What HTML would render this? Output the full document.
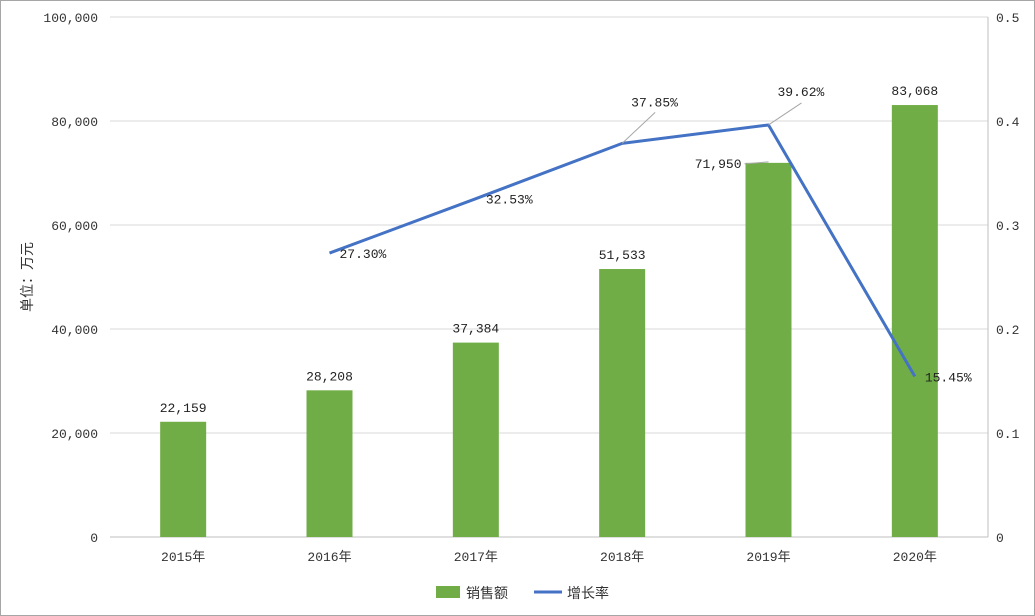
<!DOCTYPE html>
<html><head><meta charset="utf-8">
<style>
html,body{margin:0;padding:0;background:#fff;}
svg{display:block;font-family:"Liberation Mono","Noto Sans CJK SC",monospace;}
</style></head>
<body>
<svg id="c" width="1035" height="616" xmlns="http://www.w3.org/2000/svg">
<rect x="0.5" y="0.5" width="1034" height="615" fill="#fff" stroke="#a6a6a6"/>
<g id="g"></g>
</svg>
<script>
const categories=["2015年","2016年","2017年","2018年","2019年","2020年"];
const sales=[22159,28208,37384,51533,71950,83068];
const salesLabels=["22,159","28,208","37,384","51,533","71,950","83,068"];
const growth=[null,0.2730,0.3253,0.3785,0.3962,0.1545];
const growthLabels=["","27.30%","32.53%","37.85%","39.62%","15.45%"];
const leftTicks=[0,20000,40000,60000,80000,100000];
const leftTickLabels=["0","20,000","40,000","60,000","80,000","100,000"];
const rightTicks=[0,0.1,0.2,0.3,0.4,0.5];
const rightTickLabels=["0","0.1","0.2","0.3","0.4","0.5"];

const NS="http://www.w3.org/2000/svg";
const g=document.getElementById('g');
const L=110,R=988,T=17,B=537;
const yL=v=>B-(v/100000)*(B-T);
const yR=v=>B-(v/0.5)*(B-T);
const band=(R-L)/categories.length;
const xC=i=>L+band*(i+0.5);
function mk(t,a,txt){const e=document.createElementNS(NS,t);for(const k in a)e.setAttribute(k,a[k]);if(txt!==undefined)e.textContent=txt;g.appendChild(e);return e;}

leftTicks.forEach((v,i)=>{
  if(v>0){const l=mk('line',{x1:L,x2:R,y1:yL(v),y2:yL(v),stroke:'#d9d9d9'});
  }
  const t=mk('text',{x:L-12,y:yL(v)+5,'text-anchor':'end','font-size':13,fill:'#333'},leftTickLabels[i]);
  
});
rightTicks.forEach((v,i)=>{
  const t=mk('text',{x:R+8,y:yR(v)+5,'font-size':13,fill:'#333'},rightTickLabels[i]);
  
});
let ax=mk('line',{x1:L,x2:R,y1:B,y2:B,stroke:'#bfbfbf'});

let ra=mk('line',{x1:R,x2:R,y1:T,y2:B,stroke:'#bfbfbf'});


categories.forEach((c,i)=>{
  const t=mk('text',{x:xC(i),y:B+24,'text-anchor':'middle','font-size':13,fill:'#333'},c);
  
  const bw=46;
  const r=mk('rect',{x:xC(i)-bw/2,y:yL(sales[i]),width:bw,height:B-yL(sales[i]),fill:'#70ad47'});
  
  let lx=xC(i),ly=yL(sales[i])-10,anc='middle';
  if(i===4){lx=xC(i)-27;ly=yL(sales[i])+5;anc='end';
    const ll=mk('line',{x1:lx+3,y1:yL(sales[i])+1,x2:xC(i),y2:yL(sales[i])-1,stroke:'#a6a6a6'});
    }
  const vt=mk('text',{x:lx,y:ly,'text-anchor':anc,'font-size':13,fill:'#222'},salesLabels[i]);
  
});

let pts=[];growth.forEach((v,i)=>{if(v!==null)pts.push(xC(i)+','+yR(v));});
const pl=mk('polyline',{points:pts.join(' '),fill:'none',stroke:'#4472c4','stroke-width':3,'stroke-linejoin':'round'});

growth.forEach((v,i)=>{
  if(v===null)return;
  const px=xC(i),py=yR(v);
  let lx=px+10,ly=py+5;
  if(i===3||i===4){
    const ll=mk('line',{x1:px,y1:py,x2:px+33,y2:py-(i===3?31:22),stroke:'#a6a6a6'});
    
    lx=px+9;ly=py-(i===3?37:29);
  }
  const t=mk('text',{x:lx,y:ly,'font-size':13,fill:'#222'},growthLabels[i]);
  
});
const yt=mk('text',{transform:'translate(32,277) rotate(-90)','text-anchor':'middle','font-size':14,fill:'#333'},'单位：万元');


const lr=mk('rect',{x:436,y:586,width:24,height:12,fill:'#70ad47'});

const lt=mk('text',{x:466,y:598,'font-size':14,fill:'#333'},'销售额');

const ln=mk('line',{x1:534,x2:562,y1:592,y2:592,stroke:'#4472c4','stroke-width':3});

const lt2=mk('text',{x:567,y:598,'font-size':14,fill:'#333'},'增长率');

</script>
</body></html>
